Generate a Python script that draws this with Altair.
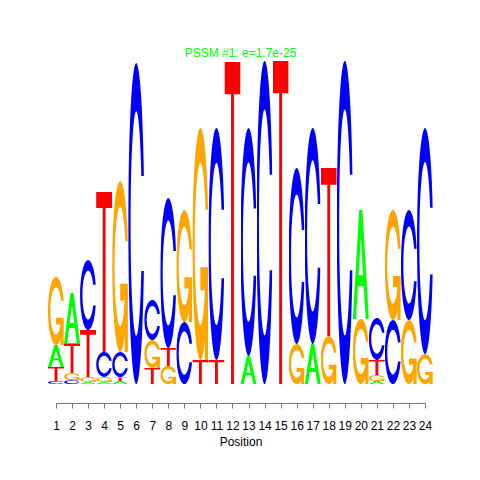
import base64
import altair as alt
import pandas as pd

# ---- data (information content in bits) ----
positions = list(range(1, 25))
A_bits = [0.135, 0.306, 0.012, 0.012, 0.018, 0.0, 0.0, 0.0, 0.0, 0.0, 0.0, 0.0,
          0.171, 0.0, 0.0, 0.0, 0.245, 0.0, 0.0, 0.667, 0.018, 0.0, 0.0, 0.0]
C_bits = [0.018, 0.024, 0.428, 0.153, 0.153, 1.963, 0.245, 0.917, 0.379, 0.0, 1.419, 0.0,
          1.394, 1.976, 0.0, 1.076, 1.321, 0.0, 1.976, 0.0, 0.257, 0.391, 0.673, 1.382]
G_bits = [0.416, 0.043, 0.031, 0.031, 1.046, 0.0, 0.171, 0.110, 0.685, 1.419, 0.0, 0.0,
          0.0, 0.0, 0.0, 0.245, 0.0, 0.294, 0.0, 0.398, 0.037, 0.673, 0.391, 0.183]
T_bits = [0.086, 0.183, 0.287, 0.979, 0.024, 0.0, 0.098, 0.110, 0.0, 0.147, 0.147, 1.969,
          0.0, 0.0, 1.976, 0.0, 0.0, 1.028, 0.0, 0.0, 0.092, 0.0, 0.0, 0.0]
letters = ["A", "C", "G", "T"]
title_text = "PSSM #1: e=1.7e-25"
x_title = "Position"

# ---- glyph styling (seqLogo-style letter outlines, 100x100 box) ----
letter_colors = {"A": "#00FF00", "C": "#0000FF", "G": "#FFA500", "T": "#FF0000"}
ring = "M97.77,35.22 A50,50 0 1 0 97.77,64.78 L81.73,64.78 A35,35 0 1 1 81.73,35.22 Z"
letter_paths = {
    "A": ["M0,100 L40,0 L60,0 L100,100 L80,100 L68,70 L32,70 L20,100 Z M36,60 L50,25 L64,60 Z"],
    "C": [ring],
    "G": [ring, "M97.77,60 L50,60 L50,70 L77.77,70 L77.77,100 L97.77,100 Z"],
    "T": ["M0,0 L100,0 L100,10 L59,10 L59,100 L41,100 L41,10 L0,10 Z"],
}


def glyph_url(letter):
    body = "".join(
        f'<path d="{d}" fill="{letter_colors[letter]}" fill-rule="evenodd"/>'
        for d in letter_paths[letter]
    )
    svg = ('<svg xmlns="http://www.w3.org/2000/svg" width="100" height="100" '
           'viewBox="0 0 100 100" preserveAspectRatio="none">' + body + '</svg>')
    return "data:image/svg+xml;base64," + base64.b64encode(svg.encode()).decode()


series = {"A": A_bits, "C": C_bits, "G": G_bits, "T": T_bits}
rows = []
for i, p in enumerate(positions):
    for L in letters:
        b = series[L][i]
        if b > 0:
            rows.append({"pos": p, "letter": L, "bits": b, "url": glyph_url(L)})
df = pd.DataFrame(rows)

FONT = "Liberation Sans"

chart = (
    alt.Chart(df)
    .transform_window(
        top="sum(bits)",
        groupby=["pos"],
        sort=[alt.SortField("bits", order="ascending"), alt.SortField("letter")],
        frame=[None, 0],
    )
    .transform_calculate(
        bottom="datum.top - datum.bits",
        left="datum.pos - 0.5",
        right="datum.pos + 0.5",
    )
    .mark_image(aspect=False)
    .encode(
        x=alt.X(
            "left:Q",
            scale=alt.Scale(domain=[1, 24], nice=False, zero=False),
            axis=alt.Axis(
                values=positions,
                format="d",
                title=x_title,
                offset=19,
                tickSize=5,
                grid=False,
                domainColor="#777777",
                tickColor="#777777",
                labelColor="black",
                titleColor="black",
                labelFont=FONT,
                titleFont=FONT,
                labelFontSize=12,
                titleFontSize=12,
                titleFontWeight="normal",
                labelPadding=12,
                titlePadding=5,
                labelFlush=False,
                labelOverlap=False,
            ),
        ),
        x2="right:Q",
        y=alt.Y("bottom:Q", scale=alt.Scale(domain=[0, 2], nice=False), axis=None),
        y2="top:Q",
        url="url:N",
    )
    .properties(
        width=369,
        height=327,
        autosize="none",
        background="white",
        padding={"left": 48, "top": 49, "right": 40, "bottom": 70},
        title=alt.TitleParams(
            title_text,
            color="#00FF00",
            font=FONT,
            fontSize=12,
            fontWeight="normal",
            anchor="middle",
            baseline="alphabetic",
            offset=0,
            dy=12,
        ),
    )
    .configure_view(strokeWidth=0, stroke="transparent")
)

chart.save("out.html", embed_options={"renderer": "svg", "actions": False})
